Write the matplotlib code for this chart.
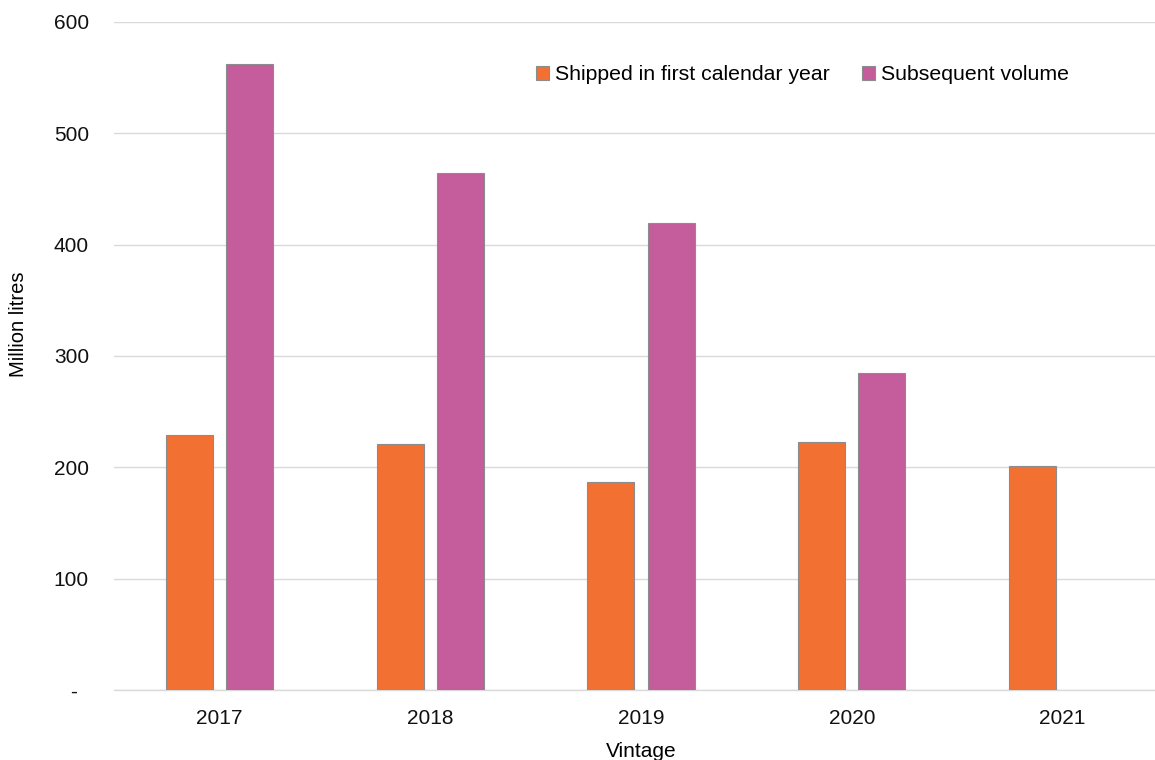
import matplotlib.pyplot as plt
import numpy as np

plt.rcParams['font.family'] = ['Liberation Sans', 'DejaVu Sans']

vintages = ["2017", "2018", "2019", "2020", "2021"]
first_year = [229, 221, 187, 223, 201]
subsequent = [562, 464, 419, 285, 0]
y_ticks = [0, 100, 200, 300, 400, 500, 600]
y_tick_labels = ["-  ", "100", "200", "300", "400", "500", "600"]

orange = "#f37033"
purple = "#c55c9b"
grid_col = "#dadada"

fig = plt.figure(figsize=(11.55, 7.6), dpi=100)
ax = fig.add_axes([0.0987, 0.0921, 0.9126, 0.879])

x = np.arange(len(vintages))
w = 0.223
ax.bar(x - 0.143, first_year, w, color=orange, edgecolor="#8c8c8c", linewidth=0.8,
       label="Shipped in first calendar year", zorder=3)
sub = [v if v > 0 else np.nan for v in subsequent]
ax.bar(x + 0.143, sub, w, color=purple, edgecolor="#8c8c8c", linewidth=0.8,
       label="Subsequent volume", zorder=3)

ax.set_xlim(-0.5, 4.5)
ax.set_ylim(0, 600)
ax.set_yticks(y_ticks)
ax.set_yticklabels(y_tick_labels)
ax.set_xticks(x)
ax.set_xticklabels(vintages)
ax.tick_params(axis="both", length=0, labelsize=15, colors="#111111")
ax.tick_params(axis="y", pad=18)
ax.tick_params(axis="x", pad=14)

ax.yaxis.grid(True, color=grid_col, linewidth=1.0, zorder=0)
ax.set_axisbelow(True)
for s in ["top", "right", "left"]:
    ax.spines[s].set_visible(False)
ax.spines["bottom"].set_color(grid_col)
ax.spines["bottom"].set_linewidth(1.0)

ax.set_ylabel("Million litres", fontsize=14.5)
# label sits a bit above the axes centre in the original
ax.yaxis.set_label_coords(-0.0816, 0.547)
ax.set_xlabel("Vintage", fontsize=15, labelpad=10)

leg = ax.legend(loc="upper left", bbox_to_anchor=(0.3825, 0.9635), ncol=2, frameon=False,
                fontsize=15.3, handlelength=0.58, handleheight=0.58, handletextpad=0.28,
                columnspacing=1.55)

fig.savefig("out.png", dpi=100)
